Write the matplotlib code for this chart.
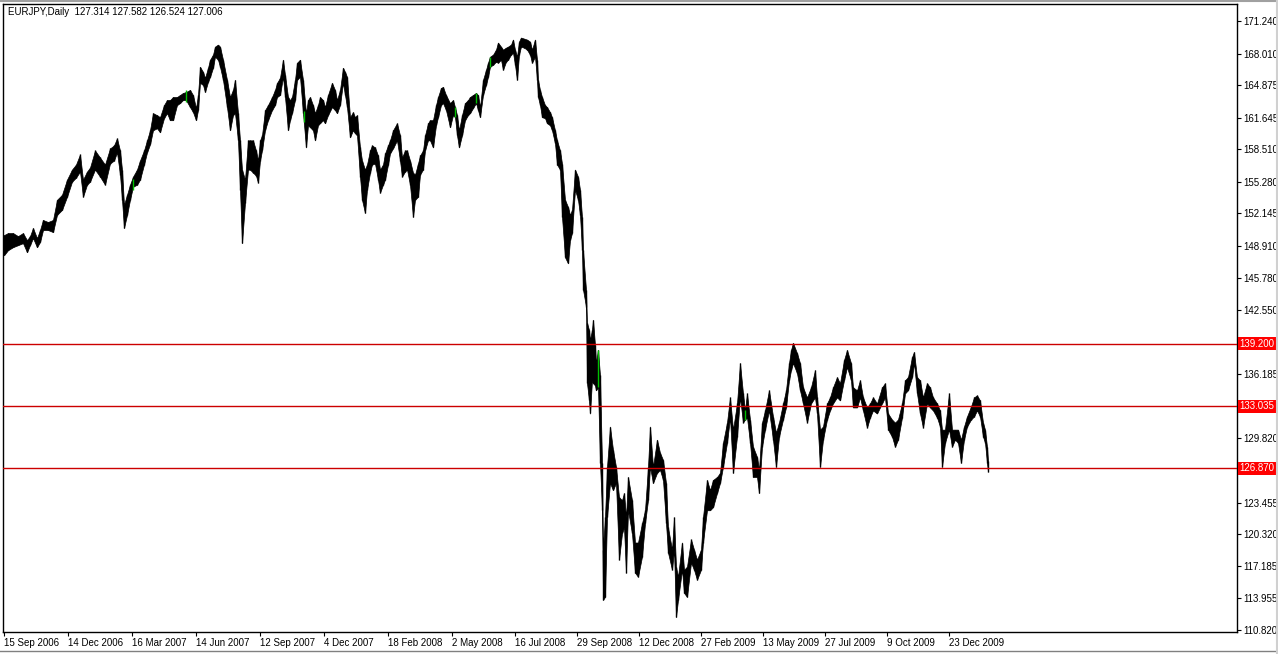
import numpy as np
import matplotlib.pyplot as plt
from matplotlib.lines import Line2D

plt.rcParams['font.family'] = ['Liberation Sans', 'DejaVu Sans']

# EURJPY daily, bar index along x, high/low
bar = [0, 4, 9, 14, 19, 23, 26, 29, 33, 36, 39, 44, 49, 53, 58, 63, 68, 72, 76, 79,
       83, 86, 91, 96, 101, 106, 110, 113, 116, 118, 120, 123, 126, 129, 133, 136, 140, 143, 146, 149,
       153, 156, 160, 163, 166, 169, 173, 176, 179, 182, 186, 189, 192, 194, 196, 199, 201, 204, 206, 209,
       211, 214, 216, 219, 223, 226, 229, 231, 234, 236, 238, 241, 244, 246, 249, 252, 254, 256, 258, 261,
       264, 268, 271, 273, 276, 279, 281, 284, 286, 288, 291, 293, 296, 299, 302, 304, 306, 309, 311, 314,
       316, 319, 321, 324, 328, 331, 333, 336, 339, 341, 343, 346, 349, 351, 353, 356, 358, 361, 363, 366,
       368, 371, 374, 376, 379, 381, 384, 386, 389, 393, 396, 398, 401, 403, 406, 409, 411, 414, 416, 419,
       421, 424, 426, 429, 432, 434, 437, 439, 442, 446, 449, 451, 453, 455, 458, 461, 464, 466, 469, 472,
       474, 476, 479, 482, 484, 486, 489, 492, 494, 497, 499, 502, 504, 507, 509, 511, 513, 515, 517, 520,
       523, 526, 528, 531, 533, 534, 536, 538, 541, 543, 546, 548, 551, 553, 556, 558, 561, 564, 566, 568,
       571, 574, 576, 578, 579, 582, 583, 585, 586, 588, 589, 591, 592, 594, 596, 598, 599, 601, 603, 606,
       609, 612, 615, 618, 620, 622, 624, 628, 631, 634, 638, 641, 644, 646, 649, 653, 656, 659, 662, 664,
       668, 670, 672, 674, 678, 680, 683, 687, 690, 693, 697, 699, 703, 706, 709, 713, 716, 719, 723, 726,
       729, 733, 736, 739, 741, 743, 746, 749, 753, 755, 758, 761, 765, 769, 772, 775, 779, 782, 785, 787,
       789, 793, 796, 799, 803, 807, 811, 813, 816, 819, 823, 826, 829, 833, 836, 840, 843, 847, 849, 853,
       856, 859, 863, 866, 869, 873, 878, 881, 884, 888, 891, 894, 898, 901, 904, 908, 910, 913, 916, 919,
       923, 926, 929, 933, 936, 938, 941, 945, 948, 951, 954, 957, 960, 963, 967, 970, 973, 976, 979, 981,
       983, 984]

high = [150.0, 150.2, 150.2, 149.9, 150.2, 149.5, 149.9, 150.7, 149.7, 150.5, 151.5, 151.3, 151.5, 153.5, 154.0, 155.5, 156.5, 157.0, 158.0, 155.5,
        156.3, 156.7, 158.4, 157.7, 157.0, 158.6, 158.9, 159.6, 158.4, 156.5, 153.0, 154.0, 155.0, 155.8, 156.5, 157.4, 158.4, 159.4, 160.4, 162.1,
        161.9, 161.7, 162.9, 163.4, 163.4, 163.7, 163.7, 163.9, 164.1, 164.2, 164.4, 163.9, 162.6, 163.9, 166.7, 166.2, 165.6, 166.6, 167.4, 167.9,
        168.7, 168.9, 168.7, 167.4, 165.4, 163.7, 164.4, 165.4, 162.1, 159.4, 156.5, 155.5, 159.4, 159.4, 159.4, 158.4, 157.4, 159.4, 159.9, 162.4,
        162.9, 163.7, 164.4, 165.1, 165.6, 167.4, 165.9, 163.7, 163.4, 163.7, 165.4, 167.1, 167.4, 165.4, 162.1, 163.4, 163.7, 162.9, 162.1, 162.9,
        163.7, 163.4, 162.7, 163.9, 165.1, 164.4, 163.4, 164.4, 166.6, 166.2, 165.7, 161.7, 162.2, 161.7, 161.9, 158.7, 157.4, 156.5, 157.0, 158.4,
        158.9, 158.7, 157.9, 156.5, 157.0, 158.1, 158.9, 159.4, 160.4, 161.1, 159.9, 157.7, 158.4, 158.4, 157.4, 156.2, 156.0, 157.1, 157.9, 158.4,
        159.9, 161.1, 161.4, 161.4, 162.9, 163.7, 164.6, 164.7, 163.9, 163.1, 163.4, 162.7, 161.9, 160.4, 161.9, 163.1, 163.4, 163.7, 163.9, 164.1,
        163.9, 162.7, 165.4, 166.4, 167.1, 167.7, 167.9, 168.4, 169.1, 168.7, 168.4, 168.6, 168.7, 168.9, 169.4, 168.4, 167.7, 169.2, 169.6, 169.5,
        169.4, 169.2, 168.4, 169.4, 167.4, 165.4, 164.4, 163.7, 162.9, 162.7, 162.2, 161.7, 160.4, 159.4, 158.4, 157.1, 153.5, 152.8, 152.0, 152.5,
        156.5, 155.8, 154.5, 151.8, 148.5, 144.6, 141.3, 140.6, 139.6, 140.6, 141.6, 139.1, 137.3, 138.6, 136.1, 127.4, 118.8, 122.0, 127.0, 131.0,
        128.7, 127.0, 124.0, 123.7, 124.4, 122.0, 126.0, 123.7, 119.5, 119.5, 121.4, 122.7, 127.0, 131.0, 127.0, 129.7, 128.4, 127.7, 125.4, 121.0,
        118.8, 122.0, 117.1, 116.1, 119.5, 116.8, 117.1, 119.8, 118.8, 117.8, 118.8, 122.0, 125.7, 124.7, 125.7, 126.0, 126.4, 129.4, 131.4, 133.9,
        130.7, 133.3, 137.3, 134.3, 132.6, 134.3, 131.7, 129.0, 128.0, 126.7, 131.4, 132.6, 134.6, 132.0, 130.4, 131.4, 133.3, 134.6, 137.3, 138.6,
        139.3, 138.3, 137.3, 134.9, 133.9, 134.9, 136.6, 133.9, 130.7, 131.0, 133.3, 133.9, 134.9, 135.9, 135.3, 137.6, 138.6, 137.3, 134.9, 134.6,
        135.6, 133.9, 132.9, 133.3, 133.9, 133.3, 134.9, 135.3, 132.3, 131.7, 131.4, 131.7, 133.3, 135.6, 135.9, 137.9, 138.4, 135.9, 135.6, 133.9,
        135.3, 134.9, 133.9, 133.3, 132.6, 130.7, 130.7, 134.3, 130.7, 130.7, 130.7, 129.7, 131.0, 132.0, 133.0, 133.9, 134.1, 133.6, 131.4, 130.7,
        129.0, 127.582]

low = [148.0, 148.5, 148.8, 149.0, 149.2, 148.3, 149.0, 149.7, 148.8, 149.3, 150.5, 150.5, 150.3, 152.0, 152.5, 153.8, 155.3, 155.7, 156.3, 153.8,
       155.0, 155.3, 156.5, 155.8, 155.0, 157.1, 157.4, 158.2, 156.0, 153.5, 150.7, 152.0, 153.5, 154.8, 155.0, 155.5, 157.0, 158.2, 159.0, 160.4,
       160.6, 160.2, 161.6, 162.1, 161.4, 161.4, 162.9, 163.1, 163.4, 163.4, 162.7, 162.2, 161.4, 162.4, 165.1, 164.9, 164.2, 165.2, 165.7, 166.6,
       167.7, 167.4, 166.7, 165.4, 162.7, 160.4, 161.9, 162.1, 159.4, 154.5, 149.2, 153.2, 156.5, 156.5, 156.2, 155.9, 155.2, 157.4, 158.4, 160.4,
       161.4, 162.4, 162.9, 163.7, 163.9, 165.7, 163.7, 160.4, 161.4, 162.1, 163.4, 165.4, 165.7, 162.1, 158.7, 160.9, 160.7, 160.4, 159.4, 160.9,
       161.1, 161.4, 161.1, 161.9, 162.7, 162.4, 162.1, 162.9, 165.1, 163.9, 162.7, 159.7, 160.4, 160.1, 159.9, 155.8, 153.5, 152.2, 154.5, 156.2,
       157.0, 157.1, 155.5, 154.2, 155.0, 155.5, 157.0, 158.1, 158.6, 159.4, 157.4, 155.8, 156.3, 156.5, 155.0, 151.8, 153.5, 153.8, 156.0, 156.5,
       158.4, 159.4, 159.4, 158.7, 160.9, 161.7, 162.9, 163.1, 162.4, 160.7, 161.9, 161.7, 159.9, 158.7, 159.9, 161.4, 161.9, 162.1, 162.6, 163.1,
       162.4, 161.7, 163.9, 164.9, 165.7, 166.7, 166.9, 167.2, 167.1, 167.4, 166.4, 167.2, 167.4, 167.9, 168.1, 166.9, 165.4, 167.9, 168.7, 168.6,
       168.4, 167.9, 167.1, 167.7, 165.4, 163.7, 162.9, 161.7, 161.6, 161.1, 160.9, 160.4, 159.1, 157.0, 156.5, 151.8, 147.8, 147.2, 149.5, 150.2,
       154.5, 153.5, 152.0, 148.5, 144.6, 142.9, 135.3, 133.6, 132.3, 135.6, 135.3, 135.1, 134.6, 134.9, 127.4, 122.7, 113.8, 114.1, 122.0, 125.4,
       124.7, 125.4, 117.8, 120.4, 121.0, 116.5, 122.7, 120.4, 116.5, 116.1, 118.1, 121.4, 123.7, 127.0, 125.4, 126.4, 126.7, 125.7, 121.4, 118.5,
       116.8, 118.8, 112.1, 113.8, 116.8, 114.5, 114.1, 117.5, 116.8, 115.8, 116.8, 119.5, 122.7, 122.7, 123.0, 124.4, 125.4, 127.0, 129.4, 131.9,
       126.4, 130.0, 133.9, 131.4, 131.7, 131.9, 129.4, 126.0, 126.0, 124.4, 129.0, 130.7, 132.6, 129.7, 127.0, 130.0, 131.7, 132.9, 135.6, 136.6,
       137.3, 136.3, 134.6, 133.3, 131.4, 133.3, 133.9, 132.3, 127.0, 129.7, 131.7, 132.6, 133.3, 133.9, 133.6, 135.6, 136.9, 135.6, 132.9, 132.9,
       133.9, 132.6, 130.9, 131.9, 132.6, 132.3, 133.3, 133.9, 130.7, 130.0, 129.0, 129.7, 131.9, 134.3, 134.6, 135.9, 137.3, 134.3, 132.3, 130.9,
       133.3, 132.9, 132.6, 131.9, 131.0, 127.0, 129.4, 130.7, 129.0, 129.7, 129.4, 127.4, 129.7, 131.0, 131.7, 132.0, 132.6, 132.0, 130.0, 129.4,
       127.4, 126.524]

# a few up bars drawn green in the terminal
green_bar = [129, 182, 300, 451, 472, 486, 594, 741]
green_high = [155.6, 164.4, 162.3, 162.7, 164.1, 167.7, 138.6, 132.6]
green_low = [154.5, 163.2, 161.2, 161.7, 163.1, 166.7, 134.9, 131.7]

levels = [139.200, 133.035, 126.870]

ytick_vals = [171.240, 168.010, 164.875, 161.645, 158.510, 155.280, 152.145, 148.910,
              145.780, 142.550, 136.185, 129.820, 123.455, 120.320, 117.185, 113.955, 110.820]

xtick_bars = [0, 64, 128, 192, 256, 320, 384, 448, 511, 573, 635, 697, 759, 821, 883, 945]
xtick_labels = ['15 Sep 2006', '14 Dec 2006', '16 Mar 2007', '14 Jun 2007', '12 Sep 2007',
                '4 Dec 2007', '18 Feb 2008', '2 May 2008', '16 Jul 2008', '29 Sep 2008',
                '12 Dec 2008', '27 Feb 2009', '13 May 2009', '27 Jul 2009', '9 Oct 2009',
                '23 Dec 2009']

W, H = 1278, 654
fig = plt.figure(figsize=(W / 100, H / 100), dpi=100)
ax = fig.add_axes([3 / W, 1 - 632 / H, (1237 - 3) / W, (632 - 4) / H])

bar = np.array(bar)
high = np.array(high)
low = np.array(low)

ax.fill_between(bar, low, high, color='black', lw=0.5)
ax.vlines(bar, low, high, color='black', lw=1.0)
ax.vlines(green_bar, green_low, green_high, color='#00c000', lw=1.0, zorder=3)

for lv in levels:
    ax.axhline(lv, color='#cc0000', lw=1.0, zorder=4)

ax.set_xlim(-1, 1233)
ax.set_ylim(110.62, 172.93)

ax.yaxis.tick_right()
ax.set_yticks(ytick_vals)
ax.set_yticklabels(['%.3f' % v for v in ytick_vals])
ax.tick_params(axis='y', length=3, width=0.8, pad=1.5, labelsize=7, direction='out')

ax.set_xticks(xtick_bars)
ax.set_xticklabels(xtick_labels, ha='left')
ax.tick_params(axis='x', length=3, width=0.8, pad=1, labelsize=7, direction='out')

for sp in ax.spines.values():
    sp.set_linewidth(1.0)
    sp.set_color('black')

# red price tags for the horizontal lines
for lv in levels:
    ax.annotate('%.3f' % lv, xy=(1.0, lv), xycoords=('axes fraction', 'data'),
                xytext=(2, 0), textcoords='offset points', va='center', ha='left',
                fontsize=7, color='white',
                bbox=dict(boxstyle='square,pad=0.15', fc='#ff0000', ec='none'),
                annotation_clip=False)

fig.text(8 / W, 1 - 12 / H, 'EURJPY,Daily  127.314 127.582 126.524 127.006',
         fontsize=7, va='center', ha='left', color='black')

# terminal frame around the chart window
fig.add_artist(Line2D([0, 1], [1 - 1 / H, 1 - 1 / H], color='#a0a0a0', lw=1.5))
fig.add_artist(Line2D([0, 1], [1 - 651 / H, 1 - 651 / H], color='#808080', lw=1.0))
fig.add_artist(Line2D([1 - 1 / W, 1 - 1 / W], [0, 1], color='#d0d0d0', lw=1.5))

fig.savefig('out.png', dpi=100)
